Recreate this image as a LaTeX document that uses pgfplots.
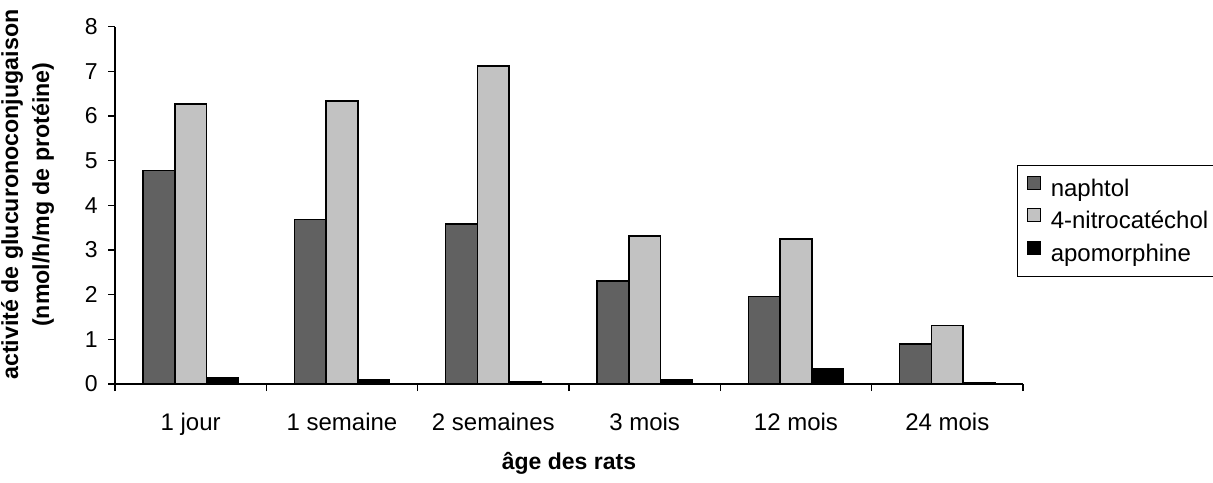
\documentclass[border=0pt]{standalone}
\usepackage{pgfplots}
\pgfplotsset{compat=1.18}
\usepackage{fontspec}
\setmainfont{Liberation Sans}
\begin{document}
\begin{tikzpicture}
\path[use as bounding box] (-57.5pt,-49pt) rectangle (549pt,192pt);
\begin{axis}[
  at={(0pt,0pt)}, anchor=south west,
  scale only axis,
  width=454pt, height=178.65pt,
  font=\fontsize{11}{13}\selectfont,
  /pgf/number format/assume math mode=true,
  axis lines=left,
  axis line style={-, line width=0.8pt},
  xmin=-0.5, xmax=5.5,
  ymin=0, ymax=8,
  ytick={0,1,...,8},
  xtick={-0.5,0.5,...,5.5},
  x tick label as interval,
  xticklabels={1 jour,1 semaine,2 semaines,3 mois,12 mois,24 mois},
  tick align=outside,
  major tick length=3.5pt,
  tick style={line width=0.6pt, black},
  xticklabel style={font=\fontsize{12}{14}\selectfont, anchor=base, yshift=-19.5pt},
  yticklabel style={font=\fontsize{11.5}{13}\selectfont, anchor=east, inner sep=0pt, xshift=-5pt},
  xlabel={âge des rats},
  xlabel style={font=\bfseries\fontsize{11.5}{13}\selectfont, at={(axis description cs:0.5,0)}, anchor=base, yshift=-42.5pt},
  ylabel={activité de glucuronoconjugaison\\(nmol/h/mg de protéine)},
  ylabel style={font=\bfseries\fontsize{11.6}{15.5}\selectfont, align=center, at={(axis description cs:-0.0964,0.53)}, anchor=center},
  bar width=0.21,
  legend style={at={(rel axis cs:0.9934,0.613)}, anchor=north west, draw=black, line width=0.6pt,
    font=\fontsize{12}{14}\selectfont, inner xsep=4.5pt, inner ysep=5pt, row sep=3.5pt,
    column sep=5pt,
    nodes={inner sep=0pt, text height=8.5pt, text depth=2.6pt}},
  legend cell align=left,
  legend image code/.code={\draw[#1, line width=0.6pt] (0pt,0.5pt) rectangle (6.5pt,7pt);},
]
\addplot[ybar, bar shift=-0.21, fill=black!62, draw=black, line width=0.8pt]
  coordinates {(0,4.78) (1,3.68) (2,3.58) (3,2.31) (4,1.96) (5,0.90)};
\addplot[ybar, bar shift=0, fill=black!24, draw=black, line width=0.8pt]
  coordinates {(0,6.27) (1,6.34) (2,7.12) (3,3.32) (4,3.25) (5,1.31)};
\addplot[ybar, bar shift=0.21, fill=black, draw=black, line width=0.8pt]
  coordinates {(0,0.15) (1,0.09) (2,0.06) (3,0.10) (4,0.34) (5,0.02)};
\legend{naphtol,4-nitrocatéchol,apomorphine}
\end{axis}
\end{tikzpicture}
\end{document}
